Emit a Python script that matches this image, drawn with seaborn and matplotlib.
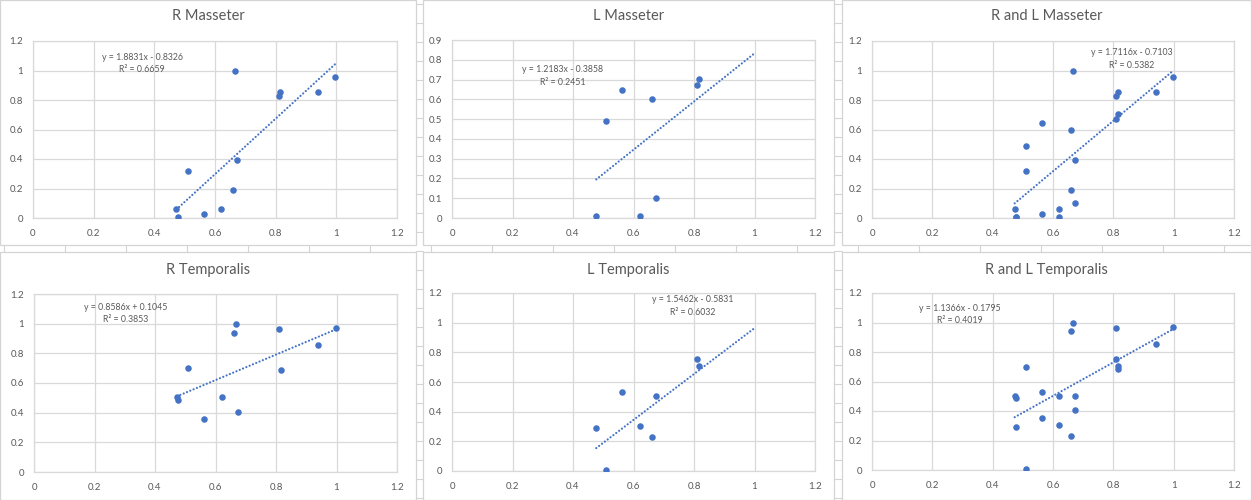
import matplotlib
matplotlib.use("Agg")
import matplotlib.pyplot as plt
import pandas as pd
import seaborn as sns
from matplotlib.lines import Line2D
from matplotlib.patches import Rectangle
from matplotlib.ticker import FuncFormatter

# x values (same subjects across charts)
x_right = [0.473, 0.477, 0.51, 0.563, 0.62, 0.66, 0.667, 0.673, 0.81, 0.815, 0.94, 0.997]
x_left = [0.477, 0.51, 0.563, 0.62, 0.66, 0.673, 0.81, 0.815]

# y values
r_masseter = [0.06, 0.008, 0.32, 0.03, 0.06, 0.19, 1.0, 0.39, 0.825, 0.855, 0.855, 0.955]
l_masseter = [0.01, 0.49, 0.645, 0.01, 0.6, 0.1, 0.67, 0.705]
r_temporalis = [0.505, 0.485, 0.70, 0.355, 0.505, 0.94, 1.0, 0.405, 0.965, 0.685, 0.855, 0.97]
l_temporalis = [0.29, 0.01, 0.53, 0.305, 0.23, 0.505, 0.755, 0.705]

# trendline labels (slope, intercept, r2)
titles = ["R Masseter", "L Masseter", "R and L Masseter",
          "R Temporalis", "L Temporalis", "R and L Temporalis"]
slopes = [1.8831, 1.2183, 1.7116, 0.8586, 1.5462, 1.1366]
intercepts = [-0.8326, -0.3858, -0.7103, 0.1045, -0.5831, -0.1795]
r2_values = [0.6659, 0.2451, 0.5382, 0.3853, 0.6032, 0.4019]
y_max = [1.2, 0.9, 1.2, 1.2, 1.2, 1.2]
y_step = [0.2, 0.1, 0.2, 0.2, 0.2, 0.2]
label_pos = [(0.36, 1.09), (0.366, 0.752), (0.862, 1.123),
             (0.303, 1.112), (0.797, 1.155), (0.292, 1.098)]

series = [
    (x_right, r_masseter),
    (x_left, l_masseter),
    (x_right + x_left, r_masseter + l_masseter),
    (x_right, r_temporalis),
    (x_left, l_temporalis),
    (x_right + x_left, r_temporalis + l_temporalis),
]

sns.set_style("white")
plt.rcParams["font.family"] = ["Lato", "DejaVu Sans"]

W, H = 1251, 500
BLUE = "#4472C4"
GRID = "#D9D9D9"
TEXT = "#595959"
CELL = "#D4D4D4"

fig = plt.figure(figsize=(W / 100, H / 100), dpi=100)


def fx(px):
    return px / W


def fy(py):
    return 1 - py / H


# spreadsheet cells showing between the charts
col_bounds = [(0, 416), (423, 834), (842, 1251)]
row_bounds = [(0, 245), (252, 500)]
for gx0, gx1 in [(416, 423), (834, 842)]:
    for yy in range(4, H, 19):
        fig.add_artist(Line2D([fx(gx0), fx(gx1)], [fy(yy), fy(yy)], color=CELL, lw=0.8))
for xx in range(4, W, 61):
    fig.add_artist(Line2D([fx(xx), fx(xx)], [fy(245), fy(252)], color=CELL, lw=0.8))

# chart boxes
for bx0, bx1 in col_bounds:
    for by0, by1 in row_bounds:
        fig.add_artist(Rectangle((fx(bx0), fy(by1)), fx(bx1 - bx0), (by1 - by0) / H,
                                 facecolor="white", edgecolor=CELL, lw=0.9, zorder=0))

# plot areas in pixels: left, right, top, bottom
plot_areas = [
    (33, 397, 41, 218), (452, 815, 40, 218), (872, 1234, 41, 218),
    (34, 397, 294, 472), (452, 815, 293, 471), (872, 1234, 293, 470),
]

fmt = FuncFormatter(lambda v, _: f"{round(v, 2):g}")

for i, (left, right, top, bottom) in enumerate(plot_areas):
    ax = fig.add_axes([fx(left), fy(bottom), fx(right - left), (bottom - top) / H])
    xs, ys = series[i]
    df = pd.DataFrame({"x": xs, "y": ys})
    sns.scatterplot(data=df, x="x", y="y", ax=ax, color=BLUE, s=22,
                    edgecolor=BLUE, linewidth=0, zorder=3)

    # linear trendline from the stated equation (round dots)
    t0, t1 = min(xs), 1.0
    ax.plot([t0, t1], [slopes[i] * t0 + intercepts[i], slopes[i] * t1 + intercepts[i]],
            color=BLUE, lw=1.6, linestyle=(0, (0.01, 1.6)), dash_capstyle="round", zorder=2)

    sign = "-" if intercepts[i] < 0 else "+"
    eq = f"y = {slopes[i]:.4f}x {sign} {abs(intercepts[i]):.4f}"
    lx, ly = label_pos[i]
    dy = y_max[i] * 0.072
    ax.text(lx, ly, eq, ha="center", va="center", fontsize=6.3, color=TEXT)
    ax.text(lx, ly - dy, f"R² = {r2_values[i]:.4f}", ha="center", va="center",
            fontsize=6.3, color=TEXT)

    ax.set_xlim(0, 1.2)
    ax.set_ylim(0, y_max[i])
    ax.set_xticks([k * 0.2 for k in range(7)])
    n = int(round(y_max[i] / y_step[i]))
    ax.set_yticks([k * y_step[i] for k in range(n + 1)])
    ax.xaxis.set_major_formatter(fmt)
    ax.yaxis.set_major_formatter(fmt)
    ax.tick_params(length=0, labelsize=7, labelcolor=TEXT)
    ax.tick_params(axis="y", pad=7)
    ax.tick_params(axis="x", pad=8)
    ax.grid(True, color=GRID, lw=0.9)
    ax.set_axisbelow(True)
    for sp in ax.spines.values():
        sp.set_color(GRID)
        sp.set_linewidth(0.9)
    ax.set_xlabel("")
    ax.set_ylabel("")

    col, row = i % 3, i // 3
    bx0, bx1 = col_bounds[col]
    ty = 16 if row == 0 else 270
    fig.text(fx((bx0 + bx1) / 2), fy(ty), titles[i], ha="center", va="center",
             fontsize=10.5, color=TEXT)

fig.savefig("out.png", dpi=100)
